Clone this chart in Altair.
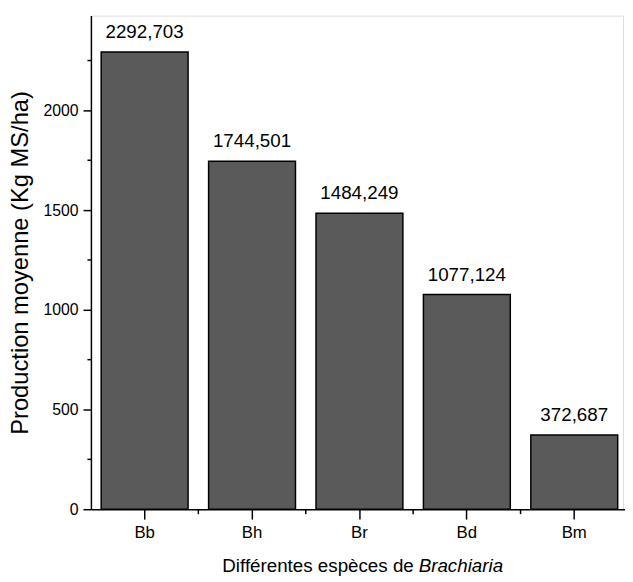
import altair as alt
import pandas as pd

species = ["Bb", "Bh", "Br", "Bd", "Bm"]
values = [2292.703, 1744.501, 1484.249, 1077.124, 372.687]
value_labels = ["2292,703", "1744,501", "1484,249", "1077,124", "372,687"]
y_tick_values = [0, 250, 500, 750, 1000, 1250, 1500, 1750, 2000, 2250]
minor_x = ["Bb", "Bh", "Br", "Bd"]

df = pd.DataFrame({"species": species, "value": values, "label": value_labels})
df_minor = pd.DataFrame({"species": minor_x})

FONT = "Liberation Sans"

xscale = alt.Scale(domain=species, range=[0, 544], paddingInner=0, paddingOuter=0)
yscale = alt.Scale(domain=[0, 2475], nice=False)

x_enc = alt.X(
    "species:N",
    scale=xscale,
    sort=species,
    axis=alt.Axis(
        title=None,
        labelAngle=0,
        labelFont=FONT,
        labelFontSize=17,
        labelColor="black",
        labelPadding=6,
        tickSize=10,
        tickColor="black",
        tickWidth=1.5,
        domainColor="black",
        domainWidth=1.5,
    ),
)

y_enc = alt.Y(
    "value:Q",
    scale=yscale,
    axis=alt.Axis(
        title="Production moyenne (Kg MS/ha)",
        titleFont=FONT,
        titleFontSize=24,
        titleFontWeight="normal",
        titleColor="black",
        titlePadding=11,
        values=y_tick_values,
        format="d",
        labelExpr="datum.value % 500 === 0 ? datum.label : ''",
        labelFont=FONT,
        labelFontSize=16,
        labelColor="black",
        labelPadding=5,
        tickSize={"condition": {"test": "datum.value % 500 === 0", "value": 8}, "value": 4},
        tickColor="black",
        tickWidth=1.5,
        domainColor="black",
        domainWidth=1.5,
        grid=False,
    ),
)

bars = alt.Chart(df).mark_bar(
    size=88, fill="#5a5a5a", stroke="black", strokeWidth=1.5
).encode(x=x_enc, y=y_enc)

text = alt.Chart(df).mark_text(
    font=FONT, fontSize=19, baseline="bottom", dy=-10, color="black"
).encode(x=alt.X("species:N", scale=xscale, sort=species), y=alt.Y("value:Q", scale=yscale), text="label:N")

minor = alt.Chart(df_minor).mark_rule(color="black", strokeWidth=1.5).encode(
    x=alt.X("species:N", scale=xscale, sort=species, bandPosition=1),
    y=alt.value(500),
    y2=alt.value(505),
)

title_a = alt.Chart(pd.DataFrame({"t": ["Différentes espèces de"]})).mark_text(
    font=FONT, fontSize=19, align="right", baseline="alphabetic", color="black"
).encode(x=alt.value(327), y=alt.value(564), text="t:N")

title_b = alt.Chart(pd.DataFrame({"t": ["Brachiaria"]})).mark_text(
    font=FONT, fontSize=19, fontStyle="italic", align="left", baseline="alphabetic", color="black"
).encode(x=alt.value(332), y=alt.value(564), text="t:N")

chart = (
    alt.layer(bars, text, minor, title_a, title_b)
    .properties(
        width=539,
        height=500,
        autosize=alt.AutoSizeParams(type="none"),
        padding={"left": 84, "top": 4, "right": 2, "bottom": 70},
    )
    .configure_view(stroke="black", strokeWidth=2)
    .configure(background="white")
)

chart.save("out.html", embed_options={"renderer": "svg", "actions": False})
